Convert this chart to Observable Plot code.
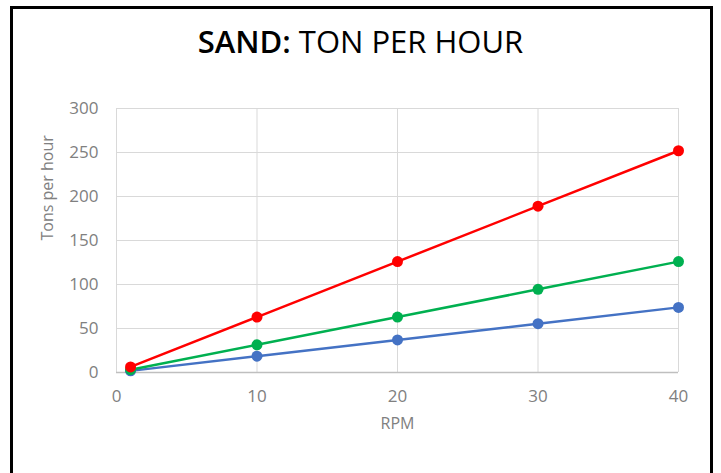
<!DOCTYPE html>
<html><head><meta charset="utf-8">
<script src="https://cdn.jsdelivr.net/npm/d3@7"></script>
<script src="https://cdn.jsdelivr.net/npm/@observablehq/plot@0.6"></script>
<style>
html,body{margin:0;padding:0;background:#fff;}
#wrap{position:relative;width:721px;height:473px;overflow:hidden;}
#frame{position:absolute;left:10px;top:6px;width:703px;height:480px;border:3px solid #000;box-sizing:border-box;}
#title{position:absolute;left:0;width:721px;top:20px;text-align:center;font-family:"Open Sans",sans-serif;font-size:31px;color:#000;}
#title b{font-weight:600;}
#chart{position:absolute;left:0;top:0;}
</style></head>
<body><div id="wrap"><div id="frame"></div><div id="chart"></div>
<div id="title"><b>SAND:</b> TON PER HOUR</div></div>
<script>
const rpm = [1, 10, 20, 30, 40];
const redSeries = [6.3, 63, 126, 189, 252];
const greenSeries = [3.15, 31.5, 63, 94.5, 126];
const blueSeries = [1.85, 18.5, 37, 55.5, 74];
const xTicks = [0, 10, 20, 30, 40];
const yTicks = [0, 50, 100, 150, 200, 250, 300];
const series = [
  {name: "blue", color: "#4472C4", values: blueSeries},
  {name: "green", color: "#00B050", values: greenSeries},
  {name: "red", color: "#FF0000", values: redSeries}
];
const data = series.flatMap(s => rpm.map((r, i) => ({series: s.name, color: s.color, rpm: r, tons: s.values[i]})));
const font = "'Open Sans', sans-serif";
const gray = "#808080";
const chart = Plot.plot({
  width: 721, height: 473,
  marginLeft: 116, marginRight: 43, marginTop: 108, marginBottom: 101,
  style: {fontFamily: font, fontSize: "17px", color: gray, background: "transparent"},
  x: {domain: [0, 40], ticks: xTicks, label: null},
  y: {domain: [0, 300], ticks: yTicks, label: null},
  marks: [
    Plot.gridX(xTicks, {stroke: "#d9d9d9", strokeOpacity: 1, strokeWidth: 1}),
    Plot.gridY(yTicks, {stroke: "#d9d9d9", strokeOpacity: 1, strokeWidth: 1}),
    Plot.ruleY([0], {stroke: "#bfbfbf", strokeWidth: 1.5}),
    Plot.axisX(xTicks, {tickSize: 0, tickPadding: 17, fontSize: 17, fill: gray, label: null}),
    Plot.axisY(yTicks, {tickSize: 0, tickPadding: 18, fontSize: 17, fill: gray, label: null}),
    Plot.text(["RPM"], {frameAnchor: "bottom", dy: 56, fontSize: 16, fill: gray}),
    Plot.text(["Tons per hour"], {frameAnchor: "left", dx: -69, rotate: -90, fontSize: 16, fill: gray}),
    Plot.line(data, {x: "rpm", y: "tons", z: "series", stroke: "color", strokeWidth: 2.5}),
    Plot.dot(data, {x: "rpm", y: "tons", fill: "color", r: 5.5})
  ]
});
document.getElementById("chart").appendChild(chart);
</script></body></html>
